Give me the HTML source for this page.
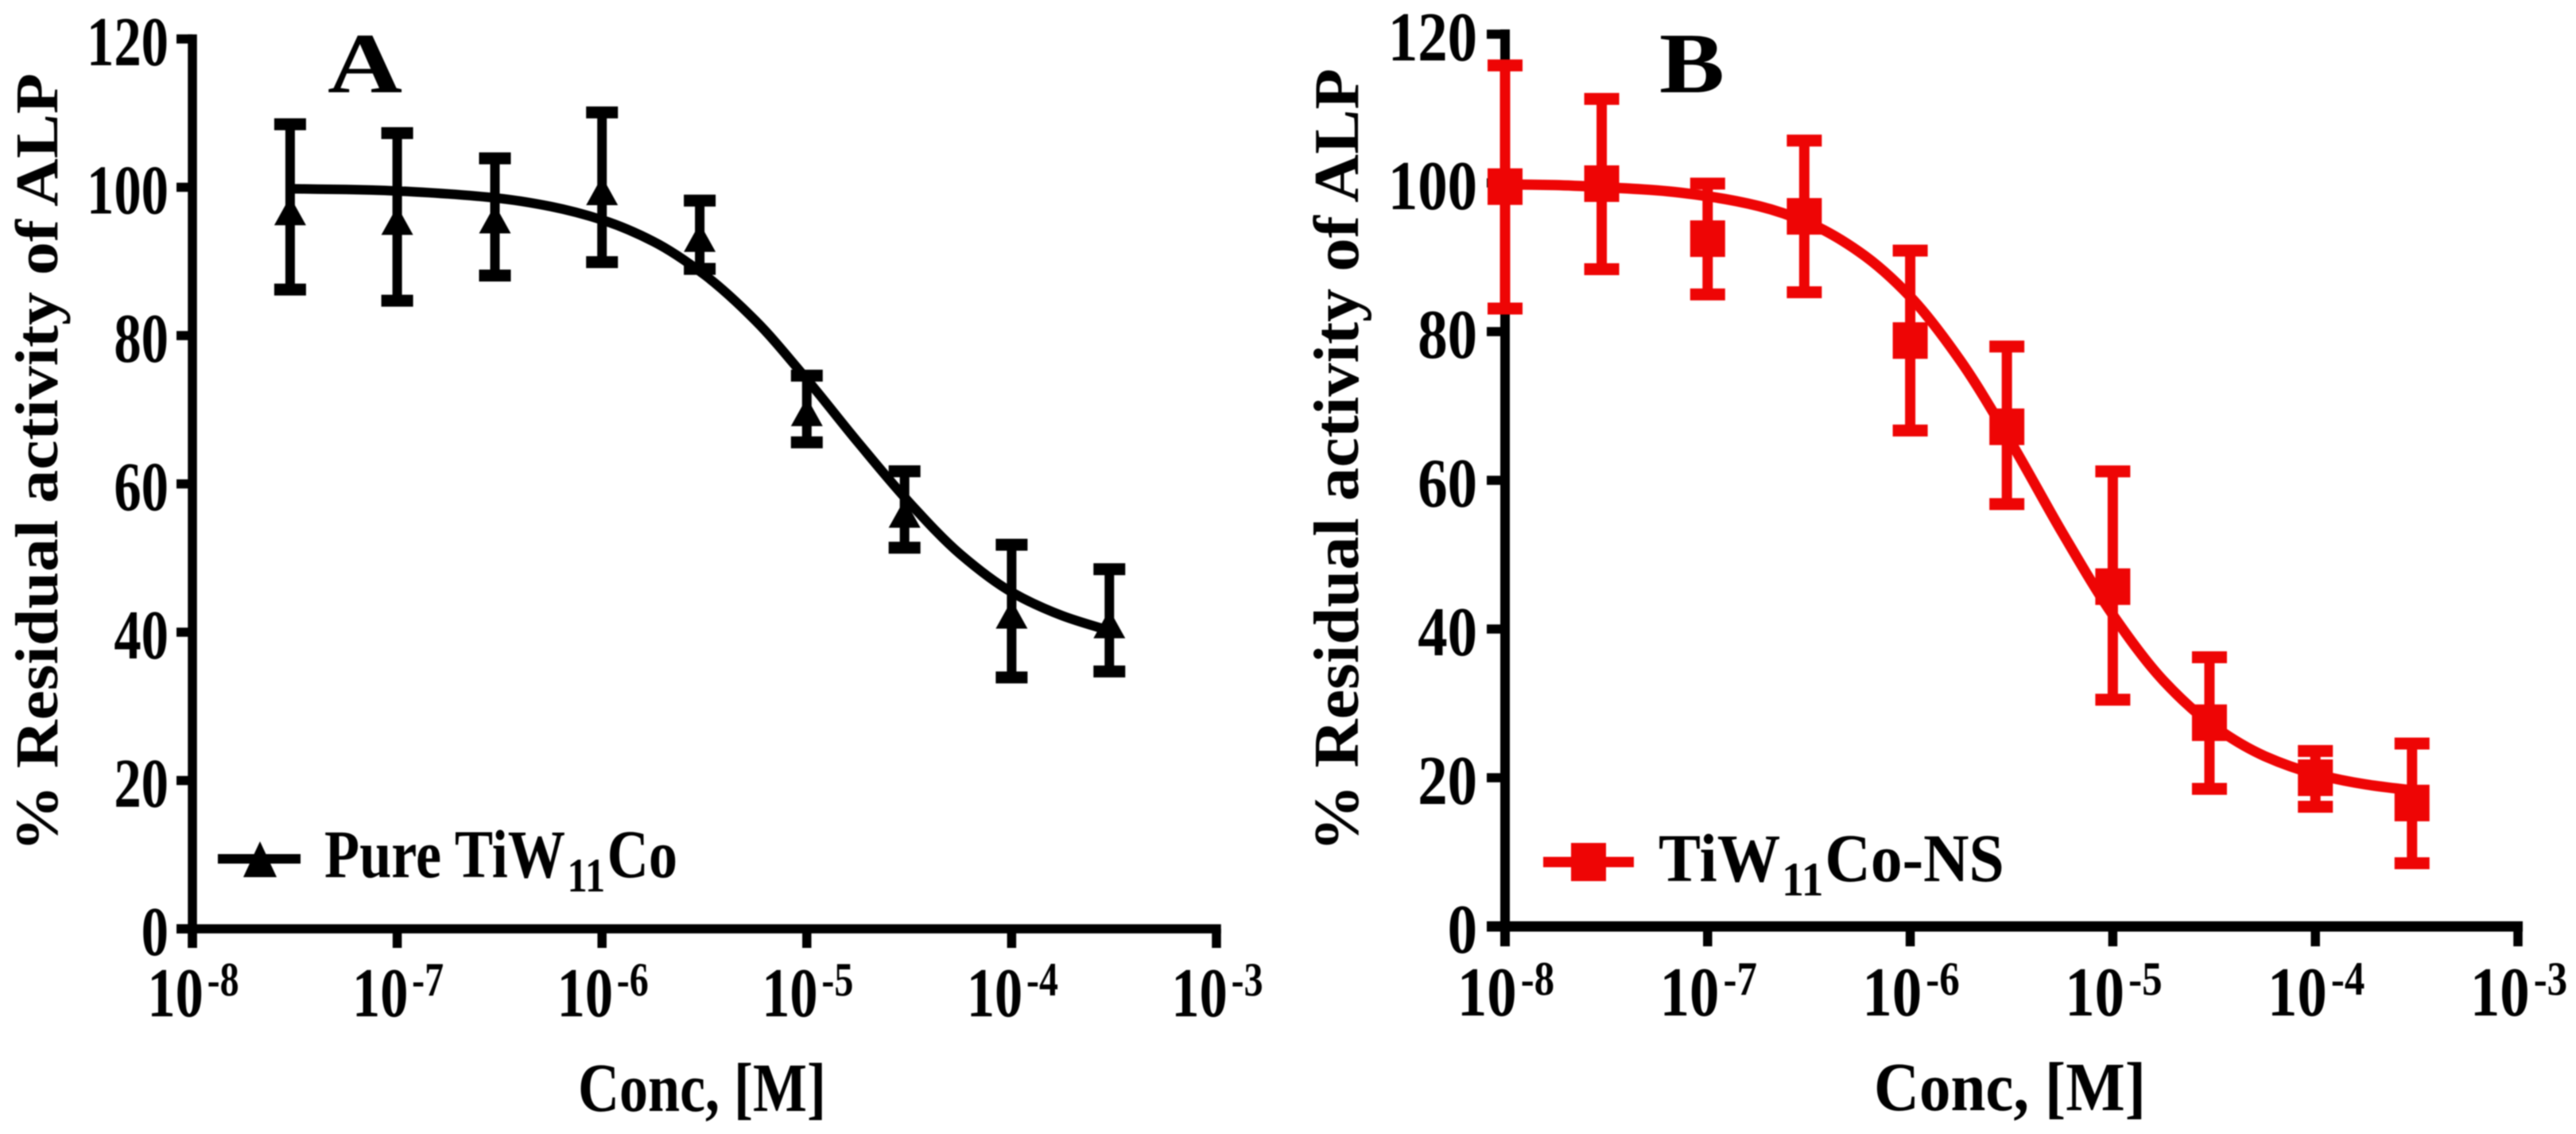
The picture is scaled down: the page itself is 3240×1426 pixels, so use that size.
<!DOCTYPE html>
<html lang="en">
<head>
<meta charset="utf-8">
<title>Residual activity of ALP</title>
<style>
html,body{margin:0;padding:0;background:#fff}
svg{display:block;filter:blur(0.7px)}
text{font-family:"Liberation Serif","DejaVu Serif",serif;font-weight:bold;fill:#000}
</style>
</head>
<body>
<svg id="figure" xmlns="http://www.w3.org/2000/svg" width="3240" height="1426" viewBox="0 0 3240 1426">
<rect width="3240" height="1426" fill="#fff"/>
<g id="panelA"></g>
<g id="panelB"></g>
</svg>
<script>
// ---- shared tick labels ----
const yTickValues = [0, 20, 40, 60, 80, 100, 120];
const xTickExponents = [-8, -7, -6, -5, -4, -3];

// ---- panel A: Pure TiW11Co ----
const concA = [3e-8, 1e-7, 3e-7, 1e-6, 3e-6, 1e-5, 3e-5, 1e-4, 3e-4];
const meanA = [96.6, 95.3, 95.5, 99.3, 93.0, 69.5, 55.8, 42.2, 40.9];
const upperA = [108.5, 107.3, 103.9, 110.1, 98.2, 74.6, 61.7, 51.8, 48.5];
const lowerA = [86.2, 84.7, 88.1, 89.9, 89.0, 65.6, 51.4, 33.9, 34.7];
const fitLogConcA = [-7.523, -7.25, -7, -6.75, -6.5, -6.25, -6, -5.75, -5.5, -5.25, -5, -4.75, -4.5, -4.25, -4, -3.75, -3.523];
const fitValueA = [99.8, 99.7, 99.5, 99.1, 98.5, 97.4, 95.6, 92.7, 88.2, 82.0, 74.1, 65.6, 57.5, 50.5, 45.4, 42.2, 40.2];

// ---- panel B: TiW11Co-NS ----
const concB = [1e-8, 3e-8, 1e-7, 3e-7, 1e-6, 3e-6, 1e-5, 3e-5, 1e-4, 3e-4];
const meanB = [99.5, 99.9, 92.5, 95.5, 78.8, 67.2, 45.7, 27.4, 20.0, 16.6];
const upperB = [115.8, 111.3, 99.9, 105.7, 90.9, 78.0, 61.2, 36.2, 23.6, 24.6];
const lowerB = [83.1, 88.4, 85.0, 85.3, 66.7, 56.8, 30.5, 18.5, 16.1, 8.5];
const fitLogConcB = [-8, -7.75, -7.5, -7.25, -7, -6.75, -6.5, -6.25, -6, -5.75, -5.5, -5.25, -5, -4.75, -4.5, -4.25, -4, -3.75, -3.523];
const fitValueB = [99.8, 99.7, 99.4, 99.0, 98.2, 96.9, 94.6, 90.7, 84.7, 76.0, 65.0, 53.0, 41.9, 33.05, 26.9, 22.9, 20.5, 19.1, 18.3];

const NS = 'http://www.w3.org/2000/svg';

// axis functions
function xA(c) { return 242 + (Math.log10(c) + 8) * 257.6; }
function yA(v) { return 1168 - v * 9.325; }
function xB(c) { return 1893 + (Math.log10(c) + 8) * 254.8; }
function yB(v) { return 1165 - v * 9.35; }

function make(tag, attrs, parent) {
  const e = document.createElementNS(NS, tag);
  for (const k in attrs) e.setAttribute(k, attrs[k]);
  parent.appendChild(e);
  return e;
}

function smoothPath(px, py) {
  const n = px.length, d = [], m = [];
  for (let i = 0; i < n - 1; i++) d.push((py[i + 1] - py[i]) / (px[i + 1] - px[i]));
  m[0] = d[0];
  m[n - 1] = d[n - 2];
  for (let i = 1; i < n - 1; i++) {
    const a = px[i] - px[i - 1], b = px[i + 1] - px[i];
    m[i] = d[i - 1] * d[i] <= 0 ? 0 : (a + b) * 3 / ((2 * b + a) / d[i - 1] + (b + 2 * a) / d[i]);
  }
  let s = 'M' + px[0].toFixed(1) + ' ' + py[0].toFixed(1);
  for (let i = 0; i < n - 1; i++) {
    const h = (px[i + 1] - px[i]) / 3;
    s += 'C' + (px[i] + h).toFixed(1) + ' ' + (py[i] + m[i] * h).toFixed(1) + ' ' +
      (px[i + 1] - h).toFixed(1) + ' ' + (py[i + 1] - m[i + 1] * h).toFixed(1) + ' ' +
      px[i + 1].toFixed(1) + ' ' + py[i + 1].toFixed(1);
  }
  return s;
}

function drawAxes(g, x, y, o) {
  const axes = make('g', {}, g);
  
  
  const left = x(1e-8), right = x(1e-3), bottom = y(0), top = y(120);
  const yAxis = make('line', { x1: left, x2: left, y1: top - o.axisW / 2, y2: o.tickBottom, stroke: '#000', 'stroke-width': o.axisW }, axes);
  
  
  const xAxis = make('line', { x1: o.tickLeft, x2: right + o.axisW / 2, y1: bottom, y2: bottom, stroke: '#000', 'stroke-width': o.axisH }, axes);
  
  
  yTickValues.forEach(function (v) {
    const t = make('line', { x1: o.tickLeft, x2: left, y1: y(v), y2: y(v), stroke: '#000', 'stroke-width': 11.5 }, axes);
    
    
    const l = make('text', { transform: 'translate(' + o.yLabelRight + ',' + (y(v) + 33) + ') scale(' + o.yLabelScale + ',1)', 'text-anchor': 'end', 'font-size': 88 }, axes);
    l.textContent = String(v);
    
    
  });
  xTickExponents.forEach(function (e) {
    const c = Math.pow(10, e);
    const t = make('line', { x1: x(c), x2: x(c), y1: bottom, y2: o.tickBottom, stroke: '#000', 'stroke-width': 11.5 }, axes);
    
    
    const l = make('text', { transform: 'translate(' + (x(c) + 1) + ',' + o.xLabelBase + ') scale(' + o.xLabelScale + ',1)', 'text-anchor': 'middle', 'font-size': 88 }, axes);
    
    
    const base = make('tspan', {}, l);
    base.textContent = '10';
    const sup = make('tspan', { 'font-size': 60, dy: -26, dx: 6 }, l);
    sup.textContent = String(e);
  });
}

function drawErrorBars(g, x, y, conc, upper, lower, color, capW, stemW) {
  conc.forEach(function (c, i) {
    const bar = make('g', { stroke: color, fill: 'none' }, g);
    
    
    make('line', { x1: x(c), x2: x(c), y1: y(upper[i]), y2: y(lower[i]), 'stroke-width': stemW }, bar);
    make('line', { x1: x(c) - capW / 2, x2: x(c) + capW / 2, y1: y(upper[i]), y2: y(upper[i]), 'stroke-width': 15 }, bar);
    make('line', { x1: x(c) - capW / 2, x2: x(c) + capW / 2, y1: y(lower[i]), y2: y(lower[i]), 'stroke-width': 15 }, bar);
  });
}

function drawCurve(g, x, y, logConc, vals, color, w) {
  const px = logConc.map(function (l) { return x(Math.pow(10, l)); });
  const p = make('path', { d: smoothPath(px, vals.map(y)), fill: 'none', stroke: color, 'stroke-width': w }, g);
  
  
}

function titles(g, o) {
  const yt = make('text', { transform: 'translate(' + o.ytX + ',' + o.ytBottom + ') rotate(-90)', 'font-size': o.ytSize, textLength: o.ytLen, lengthAdjust: 'spacingAndGlyphs' }, g);
  yt.textContent = '% Residual activity of ALP';
  
  
  const xt = make('text', { x: o.xtX, y: o.xtY, 'font-size': 87, textLength: o.xtLen, lengthAdjust: 'spacingAndGlyphs' }, g);
  xt.textContent = 'Conc, [M]';
  
  
  const pl = make('text', { x: o.pX, y: 116, 'font-size': 108, textLength: o.pLen, lengthAdjust: 'spacingAndGlyphs' }, g);
  pl.textContent = o.pText;
  
  
}

// ---------- Panel A ----------
const gA = document.getElementById('panelA');
drawAxes(gA, xA, yA, { axisW: 11.5, axisH: 11.5, tickLeft: 222, tickBottom: 1192, yLabelRight: 212, yLabelScale: 0.78, xLabelBase: 1278, xLabelScale: 0.8 });
titles(gA, { ytX: 72, ytBottom: 1071, ytSize: 76, ytLen: 979, xtX: 727, xtY: 1397, xtLen: 312, pX: 412, pLen: 94, pText: 'A' });
drawErrorBars(gA, xA, yA, concA, upperA, lowerA, '#000', 40, 12);
drawCurve(gA, xA, yA, fitLogConcA, fitValueA, '#000', 12);
concA.forEach(function (c, i) {
  const mx = xA(c), my = yA(meanA[i]);
  const tri = make('polygon', { points: mx + ',' + (my - 20) + ' ' + (mx + 20) + ',' + (my + 16) + ' ' + (mx - 20) + ',' + (my + 16), fill: '#000' }, gA);
  
  
});
const legA = make('g', {}, gA);


make('line', { x1: 274, x2: 378, y1: 1080, y2: 1080, stroke: '#000', 'stroke-width': 12 }, legA);
make('polygon', { points: '327,1058 348,1103 306,1103', fill: '#000' }, legA);
const legAText = make('text', { transform: 'translate(408,1103) scale(0.84,1)', 'font-size': 86 }, legA);
make('tspan', {}, legAText).textContent = 'Pure TiW';
make('tspan', { 'font-size': 60, dy: 18, dx: 3 }, legAText).textContent = '11';
make('tspan', { dy: -18, dx: 3 }, legAText).textContent = 'Co';

// ---------- Panel B ----------
const gB = document.getElementById('panelB');
drawAxes(gB, xB, yB, { axisW: 12, axisH: 13, tickLeft: 1870, tickBottom: 1190, yLabelRight: 1858, yLabelScale: 0.85, xLabelBase: 1277, xLabelScale: 0.85 });
titles(gB, { ytX: 1708, ytBottom: 1071, ytSize: 80, ytLen: 985, xtX: 2357, xtY: 1396, xtLen: 342, pX: 2087, pLen: 82, pText: 'B' });
drawErrorBars(gB, xB, yB, concB, upperB, lowerB, '#ee0505', 44, 13);
drawCurve(gB, xB, yB, fitLogConcB, fitValueB, '#ee0505', 13);
concB.forEach(function (c, i) {
  const sq = make('rect', { x: xB(c) - 22, y: yB(meanB[i]) - 23, width: 44, height: 46, fill: '#ee0505' }, gB);
  
  
});
const legB = make('g', {}, gB);


make('line', { x1: 1941, x2: 2055, y1: 1084, y2: 1084, stroke: '#ee0505', 'stroke-width': 13 }, legB);
make('rect', { x: 1976, y: 1060, width: 44, height: 48, fill: '#ee0505' }, legB);
const legBText = make('text', { transform: 'translate(2086,1108) scale(0.925,1)', 'font-size': 86 }, legB);
make('tspan', {}, legBText).textContent = 'TiW';
make('tspan', { 'font-size': 60, dy: 18, dx: 2 }, legBText).textContent = '11';
make('tspan', { dy: -18, dx: 2 }, legBText).textContent = 'Co-NS';
</script>
</body>
</html>
